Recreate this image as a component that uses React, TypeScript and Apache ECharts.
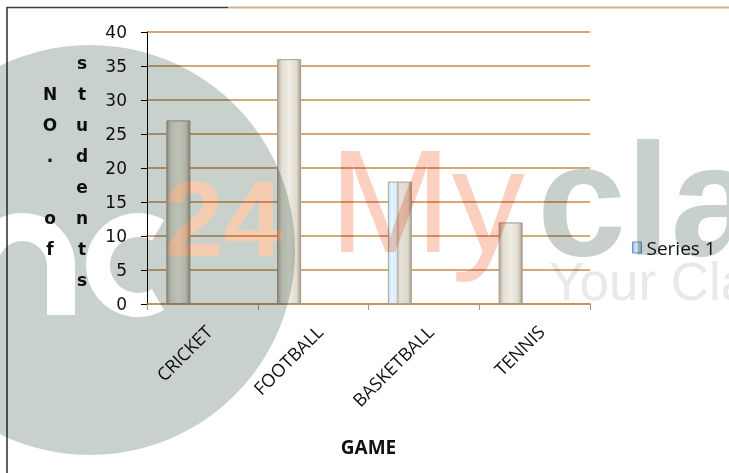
import React, { useEffect, useRef } from 'react';
import * as echarts from 'echarts';

const categories = ['CRICKET', 'FOOTBALL', 'BASKETBALL', 'TENNIS'];
const students = [27, 36, 18, 12];
const yMin = 0;
const yMax = 40;
const yStep = 5;
const seriesName = 'Series 1';
const xTitle = 'GAME';
const yTitleCol1 = ['N', 'O', '.', ' ', 'o', 'f'];
const yTitleCol2 = ['s', 't', 'u', 'd', 'e', 'n', 't', 's'];

const W = 729;
const H = 473;

export default function App() {
  const chartRef = useRef<HTMLDivElement>(null);
  const markRef = useRef<HTMLDivElement>(null);

  useEffect(() => {
    const chart = echarts.init(chartRef.current!, null, { renderer: 'svg' });
    const mark = echarts.init(markRef.current!, null, { renderer: 'svg' });

    const beige = {
      type: 'linear', x: 0, y: 0, x2: 1, y2: 0,
      colorStops: [
        { offset: 0, color: '#b3aa9a' },
        { offset: 0.18, color: '#e2ded3' },
        { offset: 0.5, color: '#efece4' },
        { offset: 0.82, color: '#e0dbcf' },
        { offset: 1, color: '#a9a090' },
      ],
    };
    const blueBeige = {
      type: 'linear', x: 0, y: 0, x2: 1, y2: 0,
      colorStops: [
        { offset: 0, color: '#bcdcf8' },
        { offset: 0.15, color: '#eaf5fe' },
        { offset: 0.36, color: '#d2e8fb' },
        { offset: 0.37, color: '#b3a898' },
        { offset: 0.5, color: '#e6e2d8' },
        { offset: 0.85, color: '#ddd8cc' },
        { offset: 1, color: '#a89c8a' },
      ],
    };

    chart.setOption({
      animation: false,
      backgroundColor: '#ffffff',
      grid: { left: 147, top: 32, right: W - 590, bottom: H - 304 },
      legend: {
        orient: 'vertical',
        left: 627,
        top: 233,
        icon: 'rect',
        itemWidth: 9,
        itemHeight: 11,
        itemGap: 6,
        textStyle: { fontFamily: 'Open Sans', fontSize: 19, color: '#111' },
        data: [
          {
            name: seriesName,
            itemStyle: {
              color: {
                type: 'linear', x: 0, y: 0, x2: 1, y2: 0,
                colorStops: [
                  { offset: 0, color: '#8fb6e0' },
                  { offset: 0.5, color: '#e3f0fc' },
                  { offset: 1, color: '#9cc0e6' },
                ],
              },
              borderColor: '#6f93c0',
              borderWidth: 1,
            },
          },
        ],
      },
      xAxis: {
        type: 'category',
        data: categories,
        name: xTitle,
        nameLocation: 'middle',
        nameGap: 133,
        nameTextStyle: { fontFamily: 'Open Sans', fontSize: 19, fontWeight: 'bold', color: '#111' },
        axisLine: { show: true, lineStyle: { color: '#c98a4c', width: 1.5 } },
        axisTick: { show: true, length: 6, interval: 0, lineStyle: { color: '#999999' } },
        axisLabel: {
          interval: 0,
          rotate: 45,
          margin: 18,
          verticalAlign: 'top',
          fontFamily: 'Open Sans',
          fontSize: 18,
          color: '#111',
        },
        splitLine: { show: false },
      },
      yAxis: {
        type: 'value',
        min: yMin,
        max: yMax,
        interval: yStep,
        axisLine: { show: true, lineStyle: { color: '#000', width: 1 } },
        axisTick: { show: true, length: 6, lineStyle: { color: '#000' } },
        axisLabel: { margin: 20, fontFamily: 'DejaVu Sans', fontSize: 17, color: '#111' },
        splitLine: { show: true, lineStyle: { color: '#c98a4c', width: 1.5 } },
      },
      series: [
        {
          name: seriesName,
          type: 'bar',
          barWidth: 24,
          barGap: '100%',
          itemStyle: { color: beige, borderColor: '#a4978a', borderWidth: 1 },
          data: students.map((v, i) =>
            categories[i] === 'BASKETBALL'
              ? { value: v, itemStyle: { color: blueBeige, borderColor: '#a9a596' } }
              : v
          ),
        },
        {
          name: 'spacer',
          type: 'bar',
          barWidth: 24,
          data: categories.map(() => '-'),
          itemStyle: { color: 'transparent' },
        },
      ],
      graphic: [
        {
          type: 'line', z: 100,
          shape: { x1: 7, y1: 7.5, x2: 228, y2: 7.5 },
          style: { stroke: '#3d3d3d', lineWidth: 1.5 },
        },
        {
          type: 'line', z: 100,
          shape: { x1: 228, y1: 7.5, x2: W, y2: 7.5 },
          style: { stroke: '#cbb78f', lineWidth: 2 },
        },
        {
          type: 'line', z: 100,
          shape: { x1: 7, y1: 7, x2: 7, y2: H },
          style: { stroke: '#2a2a2a', lineWidth: 1.5 },
        },
        {
          type: 'text', z: 100, x: 50, y: 171,
          style: {
            text: yTitleCol1.join('\n'),
            lineHeight: 31,
            fontFamily: 'DejaVu Sans',
            fontSize: 17,
            fontWeight: 'bold',
            fill: '#111',
            align: 'center',
            verticalAlign: 'middle',
          },
        },
        {
          type: 'text', z: 100, x: 82, y: 171,
          style: {
            text: yTitleCol2.join('\n'),
            lineHeight: 31,
            fontFamily: 'DejaVu Sans',
            fontSize: 17,
            fontWeight: 'bold',
            fill: '#111',
            align: 'center',
            verticalAlign: 'middle',
          },
        },
      ],
    });

    mark.setOption({
      animation: false,
      backgroundColor: 'transparent',
      graphic: [
        { type: 'circle', shape: { cx: 90, cy: 250, r: 205 }, style: { fill: '#c9d1cd' } },
        {
          type: 'arc',
          shape: { cx: 22.5, cy: 265.5, r: 38.5, startAngle: Math.PI, endAngle: 2 * Math.PI, clockwise: true },
          style: { stroke: '#ffffff', lineWidth: 28, fill: 'none' },
        },
        { type: 'rect', shape: { x: 47, y: 264, width: 28, height: 51 }, style: { fill: '#ffffff' } },
        { type: 'rect', shape: { x: -30, y: 264, width: 28, height: 51 }, style: { fill: '#ffffff' } },
        {
          type: 'arc',
          shape: { cx: 138, cy: 265, r: 40, startAngle: (60 * Math.PI) / 180, endAngle: (300 * Math.PI) / 180, clockwise: true },
          style: { stroke: '#ffffff', lineWidth: 24, fill: 'none' },
        },
        {
          type: 'text', x: 164, y: 218.5,
          style: {
            text: '24', fontFamily: 'Liberation Sans', fontWeight: 'bold', fontSize: 107,
            fill: '#f5ccb0', align: 'left', verticalAlign: 'middle',
          },
        },
        {
          type: 'text', x: 329, y: 200.5,
          style: {
            text: 'My', fontFamily: 'Liberation Sans', fontSize: 147,
            fill: '#fcd0c1', align: 'left', verticalAlign: 'middle',
          },
        },
        {
          type: 'text', x: 537, y: 199.5,
          style: {
            text: 'cla', fontFamily: 'Liberation Sans', fontWeight: 'bold', fontSize: 160,
            fill: '#c8d0cc', align: 'left', verticalAlign: 'middle',
          },
        },
        {
          type: 'text', x: 549, y: 281.5,
          style: {
            text: 'Your Cla', fontFamily: 'Liberation Sans', fontSize: 53,
            fill: '#e7eae9', align: 'left', verticalAlign: 'middle',
          },
        },
      ],
    });

    return () => {
      chart.dispose();
      mark.dispose();
    };
  }, []);

  return (
    <div style={{ position: 'fixed', left: 0, top: 0, width: W, height: H, background: '#fff' }}>
      <div ref={chartRef} style={{ position: 'absolute', left: 0, top: 0, width: W, height: H }} />
      <div
        ref={markRef}
        style={{
          position: 'absolute', left: 0, top: 0, width: W, height: H,
          mixBlendMode: 'multiply', pointerEvents: 'none',
        }}
      />
    </div>
  );
}
